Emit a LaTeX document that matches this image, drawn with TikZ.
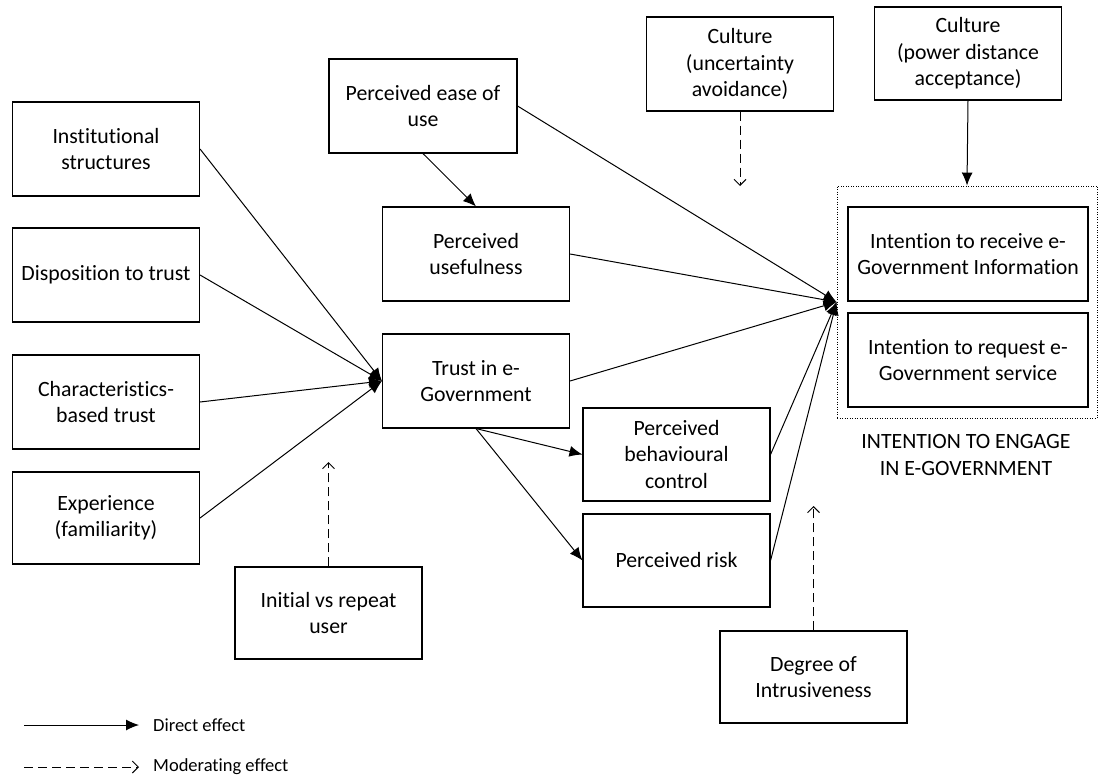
\documentclass[tikz,border=0pt]{standalone}
\usepackage{fontspec}
\setmainfont{Carlito}[Ligatures=NoCommon]
\usetikzlibrary{arrows.meta}
\begin{document}
\begin{tikzpicture}[x=1pt,y=-1pt,
  box/.style={draw, line width=1.1pt, minimum width=187pt, minimum height=94pt,
    inner sep=0pt, align=center, font=\fontsize{21.8}{26.5}\selectfont},
  widebox/.style={box, minimum width=240pt},
  groupbox/.style={draw, line width=0.9pt, dash pattern=on 1pt off 1.5pt,
    minimum width=260pt, minimum height=232pt, inner sep=0pt},
  direct/.style={line width=1pt, -{Latex[length=13pt,width=11pt]}},
  moderate/.style={line width=1pt, dash pattern=on 9pt off 5pt,
    -{Straight Barb[length=6pt,width=12pt]}},
  legendtext/.style={anchor=west, inner sep=0pt, font=\fontsize{18.5}{22}\selectfont},
]
\useasboundingbox (0,0) rectangle (1098,776);

% antecedents of trust
\node[box] (inst) at (106,149) {Institutional\\structures};
\node[box] (disp) at (106,275) {Disposition to trust};
\node[box] (char) at (106,402) {Characteristics-\\based trust};
\node[box, minimum height=92pt] (exp) at (106,518) {Experience\\(familiarity)};

% core constructs
\node[box, minimum width=188pt] (ease) at (423,106) {Perceived ease of\\use};
\node[box] (useful) at (476,254) {Perceived\\usefulness};
\node[box] (trust) at (476,381) {Trust in e-\\Government};
\node[box, minimum height=93pt] (pbc) at (676.5,454.5) {Perceived\\behavioural\\control};
\node[box, minimum height=93pt] (risk) at (676.5,560.5) {Perceived risk};

% cultural moderators
\node[box] (cunc) at (740,64) {Culture\\(uncertainty\\avoidance)};
\node[box, minimum height=93pt] (cpow) at (968,53.5) {Culture\\(power distance\\acceptance)};

% outcome group
\node[groupbox] (group) at (967,302) {};
\node[widebox] (irec) at (968,254) {Intention to receive e-\\Government Information};
\node[widebox] (ireq) at (968,360) {Intention to request e-\\Government service};
\node[align=center, inner sep=0pt, font=\fontsize{21.8}{26.5}\selectfont] (glabel)
  at (966,455) {INTENTION TO ENGAGE\\IN E-GOVERNMENT};

% other moderators
\node[box, minimum height=92pt] (initial) at (328.5,613) {Initial vs repeat\\user};
\node[box, minimum height=92pt] (degree) at (813.5,677) {Degree of\\Intrusiveness};

% direct effects
\draw[direct] (inst.east) -- (trust.west);
\draw[direct] (disp.east) -- (trust.west);
\draw[direct] (char.east) -- (trust.west);
\draw[direct] (exp.east) -- (trust.west);
\draw[direct] (ease.south) -- (useful.north);
\draw[direct] (trust.south) -- (pbc.west);
\draw[direct] (trust.south) -- (risk.west);
\draw[direct] (ease.east) -- (group.west);
\draw[direct] (useful.east) -- (group.west);
\draw[direct] (trust.east) -- (group.west);
\draw[direct] (pbc.east) -- (group.west);
\draw[direct] (risk.east) -- (group.west);
\draw[direct] (cpow.south) -- (group.north);

% moderating effects
\coordinate (uncEnd) at (740,186);
\coordinate (iniEnd) at (328.5,462);
\coordinate (degEnd) at (813.5,506);
\draw[moderate] (cunc.south) -- (uncEnd);
\draw[moderate] (initial.north) -- (iniEnd);
\draw[moderate] (degree.north) -- (degEnd);

% legend
\coordinate (lgA1) at (24,725);
\coordinate (lgA2) at (139,725);
\coordinate (lgB1) at (24,767);
\coordinate (lgB2) at (139,767);
\draw[direct] (lgA1) -- (lgA2);
\draw[moderate] (lgB1) -- (lgB2);
\node[legendtext] (lgAt) at (153,725) {Direct effect};
\node[legendtext] (lgBt) at (153,767) {Moderating effect};
\end{tikzpicture}
\end{document}
